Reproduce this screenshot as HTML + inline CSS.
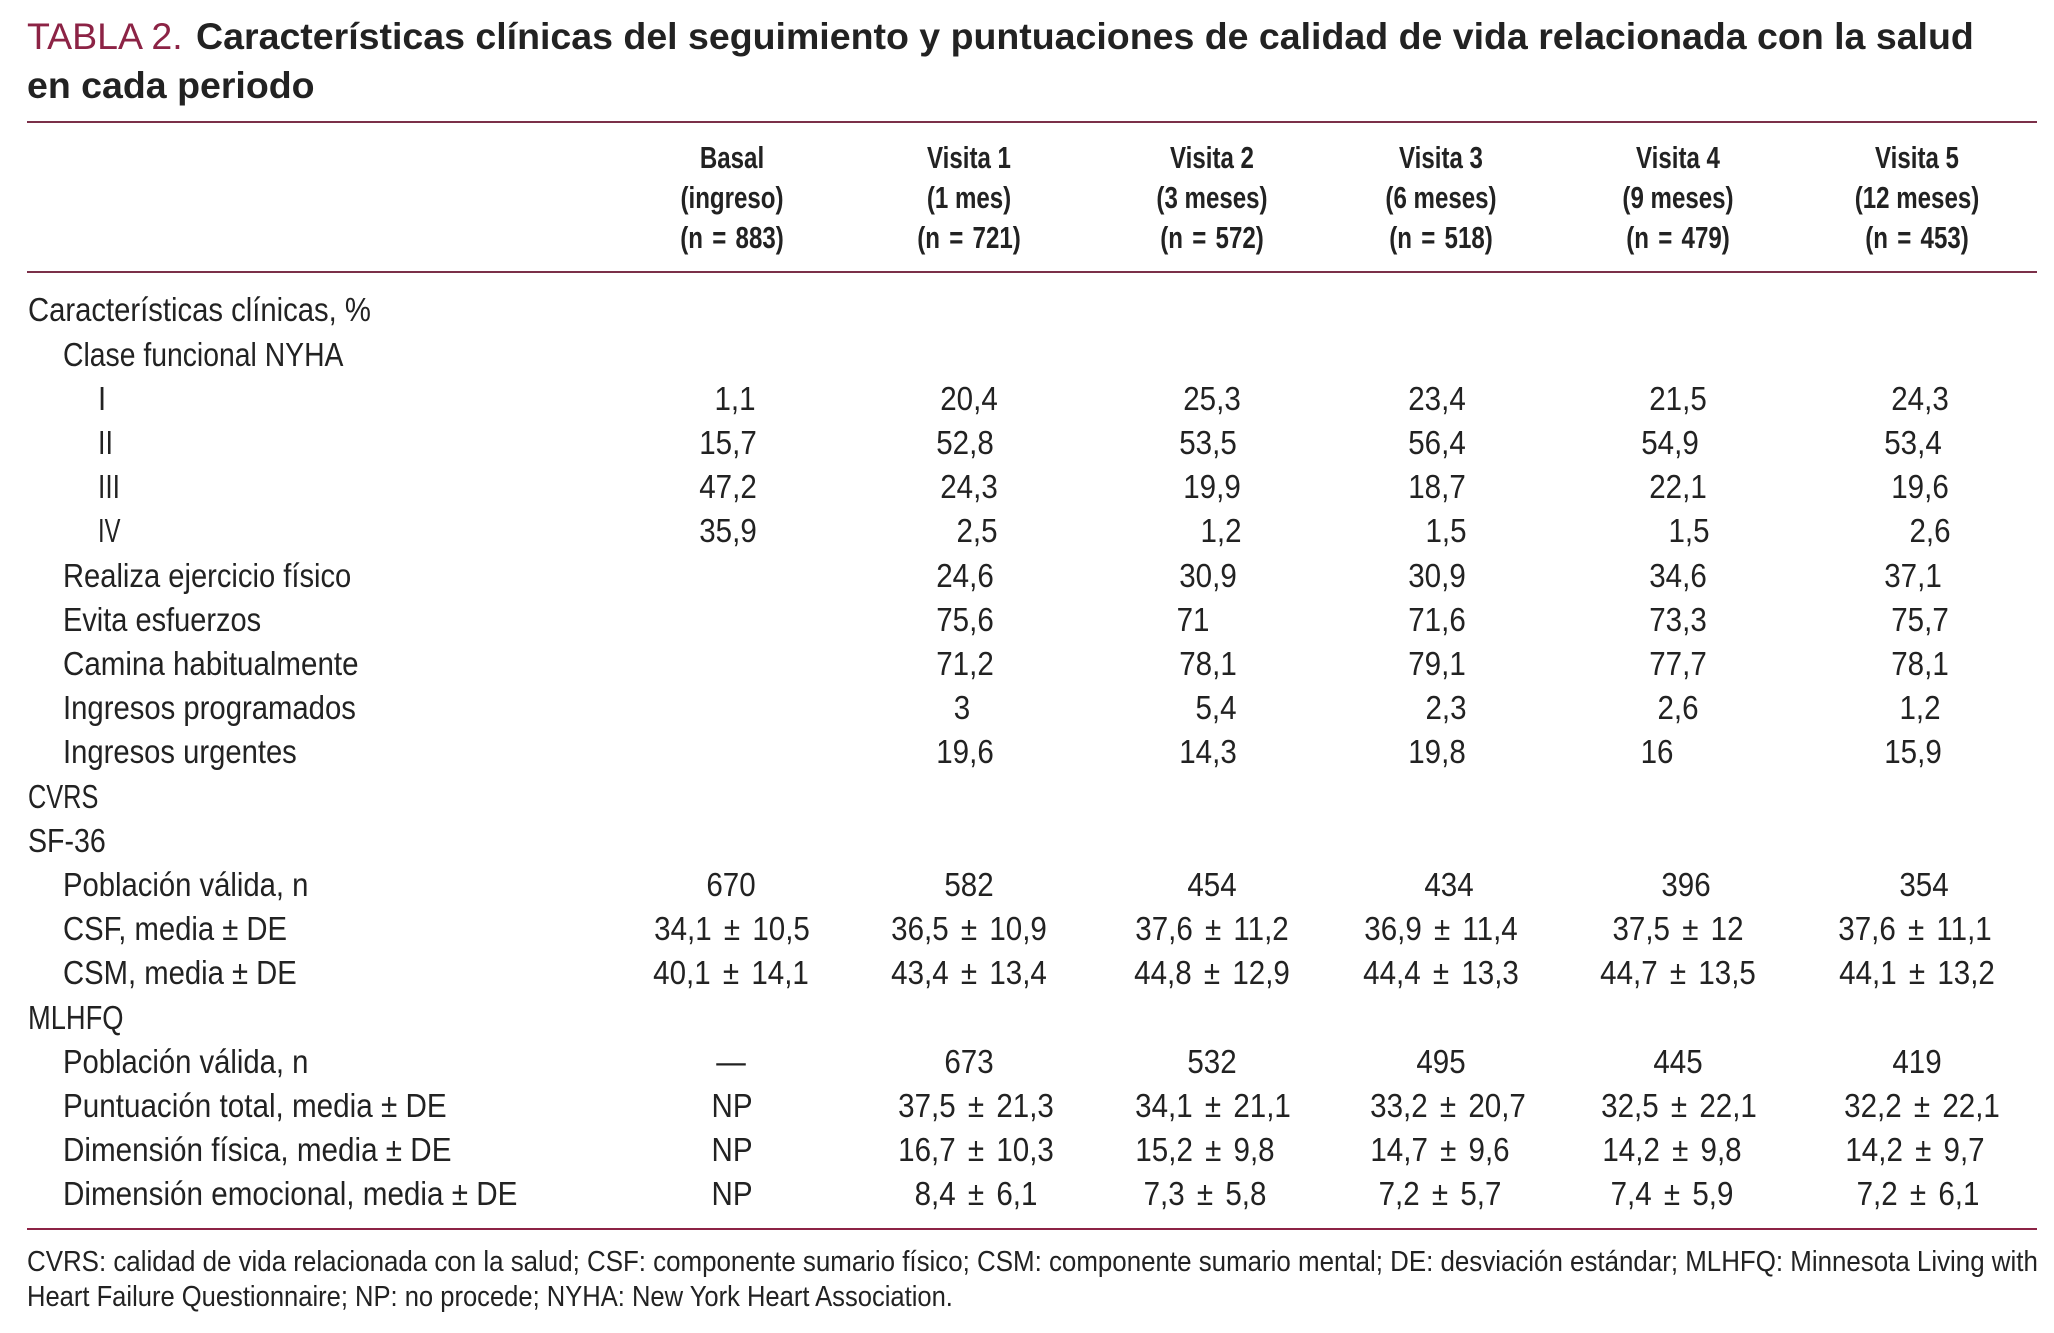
<!DOCTYPE html>
<html lang="es">
<head>
<meta charset="utf-8">
<title>Tabla 2</title>
<style>
html,body{margin:0;padding:0;background:#fff}
#page{position:relative;width:2054px;height:1333px;overflow:hidden;background:#fff;color:#222;font-family:"Liberation Sans",Arial,sans-serif}
.rule{position:absolute;left:27px;width:2010px;height:2px;background:#7b3049}
.t{position:absolute;white-space:nowrap;transform-origin:0 50%}
.title{font-size:37.5px;line-height:48px;font-weight:bold;color:#222}
.title b{font-weight:normal;color:#8c2345;margin-right:3px}
.row{position:absolute;left:0;width:2054px;height:44px;top:calc(288.3px + var(--r)*44.2px);font-size:33px;line-height:44px}
.row span{position:absolute;white-space:nowrap;left:calc(var(--x)*1.31px)}
.row .l{transform-origin:0 50%;transform:scaleX(var(--s,.886))}
.row .c{transform:translateX(-50%) scaleX(.895);word-spacing:4.5px}
.h{position:absolute;left:calc(var(--x)*1.31px);top:var(--y);font-size:31px;line-height:40px;font-weight:bold;white-space:nowrap;transform:translateX(-50%) scaleX(.777)}
.n{word-spacing:3.3px}
.foot{font-size:29px;line-height:36px}
</style>
</head>
<body>
<div id="page">
<div class="t title" style="left:27px;top:12px"><b>TABLA 2.</b> Características clínicas del seguimiento y puntuaciones de calidad de vida relacionada con la salud</div>
<div class="t title" style="left:27px;top:61px">en cada periodo</div>
<div class="rule" style="top:121px"></div>

<div class="h" style="--x:559;--y:138px">Basal</div>
<div class="h" style="--x:559;--y:178px">(ingreso)</div>
<div class="h n" style="--x:559;--y:218px">(n = 883)</div>
<div class="h" style="--x:740;--y:138px">Visita 1</div>
<div class="h" style="--x:740;--y:178px">(1 mes)</div>
<div class="h n" style="--x:740;--y:218px">(n = 721)</div>
<div class="h" style="--x:925;--y:138px">Visita 2</div>
<div class="h" style="--x:925;--y:178px">(3 meses)</div>
<div class="h n" style="--x:925;--y:218px">(n = 572)</div>
<div class="h" style="--x:1100;--y:138px">Visita 3</div>
<div class="h" style="--x:1100;--y:178px">(6 meses)</div>
<div class="h n" style="--x:1100;--y:218px">(n = 518)</div>
<div class="h" style="--x:1281;--y:138px">Visita 4</div>
<div class="h" style="--x:1281;--y:178px">(9 meses)</div>
<div class="h n" style="--x:1281;--y:218px">(n = 479)</div>
<div class="h" style="--x:1463;--y:138px">Visita 5</div>
<div class="h" style="--x:1463;--y:178px">(12 meses)</div>
<div class="h n" style="--x:1463;--y:218px">(n = 453)</div>
<div class="rule" style="top:271px"></div>

<div class="row" style="--r:0"><span class="l" style="--x:21">Características clínicas, %</span></div>
<div class="row" style="--r:1"><span class="l" style="--x:48;--s:.859">Clase funcional NYHA</span></div>

<div class="row" style="--r:2"><span class="l" style="--x:75">I</span>
<span class="c" style="--x:561">1,1</span><span class="c" style="--x:740">20,4</span><span class="c" style="--x:925">25,3</span><span class="c" style="--x:1097">23,4</span><span class="c" style="--x:1281">21,5</span><span class="c" style="--x:1466">24,3</span></div>

<div class="row" style="--r:3"><span class="l" style="--x:75;--s:.82">II</span>
<span class="c" style="--x:556">15,7</span><span class="c" style="--x:737">52,8</span><span class="c" style="--x:922">53,5</span><span class="c" style="--x:1097">56,4</span><span class="c" style="--x:1275">54,9</span><span class="c" style="--x:1460">53,4</span></div>

<div class="row" style="--r:4"><span class="l" style="--x:75;--s:.8">III</span>
<span class="c" style="--x:556">47,2</span><span class="c" style="--x:740">24,3</span><span class="c" style="--x:925">19,9</span><span class="c" style="--x:1097">18,7</span><span class="c" style="--x:1281">22,1</span><span class="c" style="--x:1466">19,6</span></div>

<div class="row" style="--r:5"><span class="l" style="--x:75;--s:.72">IV</span>
<span class="c" style="--x:556">35,9</span><span class="c" style="--x:746">2,5</span><span class="c" style="--x:932">1,2</span><span class="c" style="--x:1104">1,5</span><span class="c" style="--x:1289">1,5</span><span class="c" style="--x:1473">2,6</span></div>

<div class="row" style="--r:6"><span class="l" style="--x:48;--s:.883">Realiza ejercicio físico</span>
<span class="c" style="--x:737">24,6</span><span class="c" style="--x:922">30,9</span><span class="c" style="--x:1097">30,9</span><span class="c" style="--x:1281">34,6</span><span class="c" style="--x:1460">37,1</span></div>

<div class="row" style="--r:7"><span class="l" style="--x:48;--s:.878">Evita esfuerzos</span>
<span class="c" style="--x:737">75,6</span><span class="c" style="--x:911">71</span><span class="c" style="--x:1097">71,6</span><span class="c" style="--x:1281">73,3</span><span class="c" style="--x:1466">75,7</span></div>

<div class="row" style="--r:8"><span class="l" style="--x:48;--s:.895">Camina habitualmente</span>
<span class="c" style="--x:737">71,2</span><span class="c" style="--x:922">78,1</span><span class="c" style="--x:1097">79,1</span><span class="c" style="--x:1281">77,7</span><span class="c" style="--x:1466">78,1</span></div>

<div class="row" style="--r:9"><span class="l" style="--x:48;--s:.887">Ingresos programados</span>
<span class="c" style="--x:734">3</span><span class="c" style="--x:928">5,4</span><span class="c" style="--x:1104">2,3</span><span class="c" style="--x:1281">2,6</span><span class="c" style="--x:1466">1,2</span></div>

<div class="row" style="--r:10"><span class="l" style="--x:48;--s:.885">Ingresos urgentes</span>
<span class="c" style="--x:737">19,6</span><span class="c" style="--x:922">14,3</span><span class="c" style="--x:1097">19,8</span><span class="c" style="--x:1265">16</span><span class="c" style="--x:1460">15,9</span></div>

<div class="row" style="--r:11"><span class="l" style="--x:21;--s:.767">CVRS</span></div>
<div class="row" style="--r:12"><span class="l" style="--x:21;--s:.866">SF-36</span></div>

<div class="row" style="--r:13"><span class="l" style="--x:48">Población válida, n</span>
<span class="c" style="--x:558">670</span><span class="c" style="--x:740">582</span><span class="c" style="--x:925">454</span><span class="c" style="--x:1106">434</span><span class="c" style="--x:1287">396</span><span class="c" style="--x:1469">354</span></div>

<div class="row" style="--r:14"><span class="l" style="--x:48">CSF, media ± DE</span>
<span class="c" style="--x:559">34,1 ± 10,5</span><span class="c" style="--x:740">36,5 ± 10,9</span><span class="c" style="--x:925">37,6 ± 11,2</span><span class="c" style="--x:1100">36,9 ± 11,4</span><span class="c" style="--x:1281">37,5 ± 12</span><span class="c" style="--x:1462">37,6 ± 11,1</span></div>

<div class="row" style="--r:15"><span class="l" style="--x:48">CSM, media ± DE</span>
<span class="c" style="--x:558">40,1 ± 14,1</span><span class="c" style="--x:740">43,4 ± 13,4</span><span class="c" style="--x:925">44,8 ± 12,9</span><span class="c" style="--x:1100">44,4 ± 13,3</span><span class="c" style="--x:1281">44,7 ± 13,5</span><span class="c" style="--x:1463">44,1 ± 13,2</span></div>

<div class="row" style="--r:16"><span class="l" style="--x:21;--s:.827">MLHFQ</span></div>

<div class="row" style="--r:17"><span class="l" style="--x:48">Población válida, n</span>
<span class="c" style="--x:558">—</span><span class="c" style="--x:740">673</span><span class="c" style="--x:925">532</span><span class="c" style="--x:1100">495</span><span class="c" style="--x:1281">445</span><span class="c" style="--x:1463">419</span></div>

<div class="row" style="--r:18"><span class="l" style="--x:48;--s:.898">Puntuación total, media ± DE</span>
<span class="c" style="--x:559">NP</span><span class="c" style="--x:745">37,5 ± 21,3</span><span class="c" style="--x:926">34,1 ± 21,1</span><span class="c" style="--x:1105">33,2 ± 20,7</span><span class="c" style="--x:1282">32,5 ± 22,1</span><span class="c" style="--x:1467">32,2 ± 22,1</span></div>

<div class="row" style="--r:19"><span class="l" style="--x:48;--s:.898">Dimensión física, media ± DE</span>
<span class="c" style="--x:559">NP</span><span class="c" style="--x:745">16,7 ± 10,3</span><span class="c" style="--x:920">15,2 ± 9,8</span><span class="c" style="--x:1099">14,7 ± 9,6</span><span class="c" style="--x:1276">14,2 ± 9,8</span><span class="c" style="--x:1462">14,2 ± 9,7</span></div>

<div class="row" style="--r:20"><span class="l" style="--x:48;--s:.898">Dimensión emocional, media ± DE</span>
<span class="c" style="--x:559">NP</span><span class="c" style="--x:745">8,4 ± 6,1</span><span class="c" style="--x:920">7,3 ± 5,8</span><span class="c" style="--x:1099">7,2 ± 5,7</span><span class="c" style="--x:1276">7,4 ± 5,9</span><span class="c" style="--x:1464">7,2 ± 6,1</span></div>

<div class="rule" style="top:1228px;background:#8c2345"></div>
<div class="t foot" style="left:27px;top:1244px;transform:scaleX(.893)">CVRS: calidad de vida relacionada con la salud; CSF: componente sumario físico; CSM: componente sumario mental; DE: desviación estándar; MLHFQ: Minnesota Living with</div>
<div class="t foot" style="left:27px;top:1279px;transform:scaleX(.881)">Heart Failure Questionnaire; NP: no procede; NYHA: New York Heart Association.</div>
</div>
</body>
</html>
